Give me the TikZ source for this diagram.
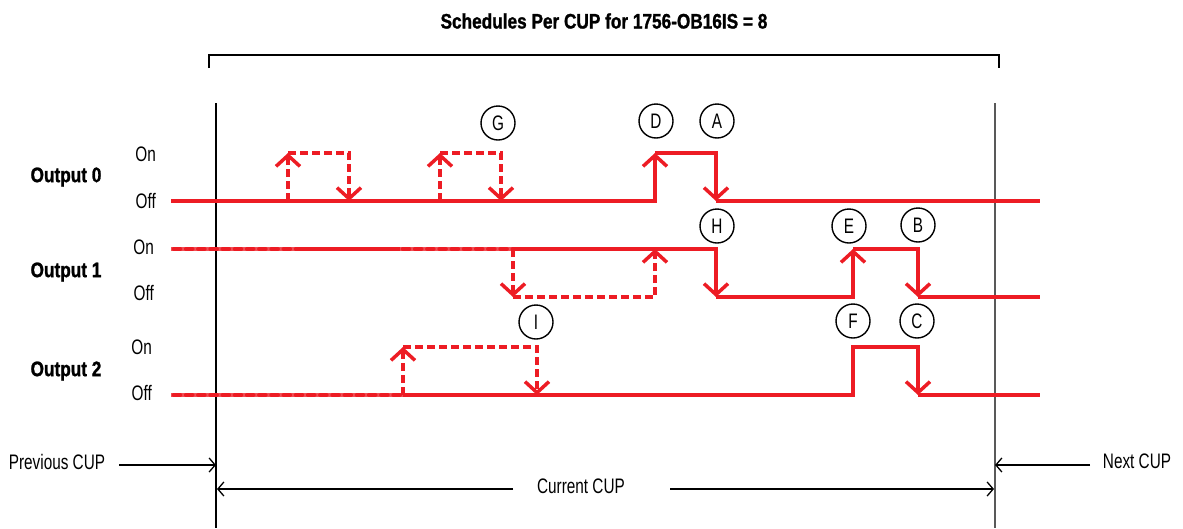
\documentclass[tikz,border=0pt]{standalone}
\usepackage{fontspec}
\setmainfont{Liberation Sans}[FakeStretch=0.73,BoldFeatures={FakeStretch=0.82,FakeBold=1.2}]
\usetikzlibrary{arrows.meta}
\definecolor{sigred}{RGB}{237,28,36}
\definecolor{sigpale}{RGB}{241,80,86}
\begin{document}
\begin{tikzpicture}[x=1pt,y=-1pt,
  sig/.style={draw=sigred,line width=3.5pt},
  sigd/.style={sig,dash pattern=on 8pt off 4pt},
  pale/.style={draw=sigpale,line width=3.5pt},
  bump/.style={draw=sigred,line width=4.6pt,line cap=round,dash pattern=on 6pt off 6.2pt},
  tip/.style={-{Straight Barb[length=11pt,width=24pt]}},
  lab/.style={circle,draw,line width=1.4pt,minimum size=34pt,inner sep=0pt,font=\fontsize{21}{22}\selectfont},
  txt/.style={font=\fontsize{21}{24}\selectfont,inner sep=0pt},
  btxt/.style={font=\fontsize{21}{24}\selectfont\bfseries,inner sep=0pt},
  thinarrow/.style={line width=1.3pt,-{Straight Barb[length=6pt,width=14pt]}}]
\useasboundingbox (0,0) rectangle (1183,528);

% title and bracket
\node[btxt] (title) at (604,21) {Schedules Per CUP for 1756-OB16IS = 8};
\draw[line width=1.2pt] (209,68) -- (209,55) -- (999,55) -- (999,68);

% CUP boundaries
\draw[line width=2.5pt] (216,103) -- (216,528);
\draw[line width=1.8pt,black!65] (995,103) -- (995,528);

% labels on the left
\node[btxt] (out0) at (66,177) {Output 0};
\node[btxt] (out1) at (66,272) {Output 1};
\node[btxt] (out2) at (66,371) {Output 2};
\node[txt,anchor=east] (on0) at (156,154) {On};
\node[txt,anchor=east] (off0) at (156,201) {Off};
\node[txt,anchor=east] (on1) at (154,247) {On};
\node[txt,anchor=east] (off1) at (154,293) {Off};
\node[txt,anchor=east] (on2) at (152,347) {On};
\node[txt,anchor=east] (off2) at (152,393) {Off};

% Output 0
\draw[sig,tip] (171,201) -- (655,201) -- (655,153);
\draw[sig,tip] (655,153) -- (716,153) -- (716,201);
\draw[sig] (716,201) -- (1040,201);
\draw[sigd,tip] (288,201) -- (288,153);
\draw[sigd,tip] (288,153) -- (349,153) -- (349,201);
\draw[sigd,tip] (440,201) -- (440,153);
\draw[sigd,tip] (440,153) -- (501,153) -- (501,201);

% Output 1
\draw[sig,tip] (171,249) -- (716,249) -- (716,297);
\draw[sig,tip] (716,297) -- (853,297) -- (853,249);
\draw[sig,tip] (853,249) -- (918,249) -- (918,297);
\draw[sig] (918,297) -- (1040,297);
\draw[pale] (171,249) -- (300,249);
\draw[bump] (174,249) -- (300,249);
\draw[pale] (400,249) -- (513,249);
\draw[bump] (403,249) -- (513,249);
\draw[sigd,tip] (513,249) -- (513,297);
\draw[sigd,tip] (513,297) -- (655,297) -- (655,249);

% Output 2
\draw[sig,tip] (171,395) -- (853,395) -- (853,347) -- (918,347) -- (918,395);
\draw[sig] (918,395) -- (1040,395);
\draw[pale] (171,395) -- (403,395);
\draw[bump] (174,395) -- (403,395);
\draw[sigd,tip] (403,395) -- (403,347);
\draw[sigd,tip] (403,347) -- (537,347) -- (537,395);

% circled markers
\node[lab] (G) at (498,123) {G};
\node[lab] (D) at (656,121) {D};
\node[lab] (A) at (717,121) {A};
\node[lab] (H) at (717,226) {H};
\node[lab] (E) at (849,226) {E};
\node[lab] (B) at (918,225) {B};
\node[lab] (I) at (536,322) {I};
\node[lab] (F) at (853,321) {F};
\node[lab] (C) at (917,321) {C};

% bottom annotations
\node[txt] (prev) at (57,462) {Previous CUP};
\node[txt] (next) at (1137,461) {Next CUP};
\node[txt] (cur) at (581,486) {Current CUP};
\coordinate (prevS) at (119,465);
\coordinate (prevE) at (216,465);
\coordinate (nextS) at (1090,465);
\coordinate (nextE) at (995,465);
\coordinate (curL) at (513,489);
\coordinate (curLE) at (217,489);
\coordinate (curR) at (670,489);
\coordinate (curRE) at (994,489);
\draw[thinarrow] (prevS) -- (prevE);
\draw[thinarrow] (nextS) -- (nextE);
\draw[thinarrow] (curL) -- (curLE);
\draw[thinarrow] (curR) -- (curRE);
\end{tikzpicture}
\end{document}
